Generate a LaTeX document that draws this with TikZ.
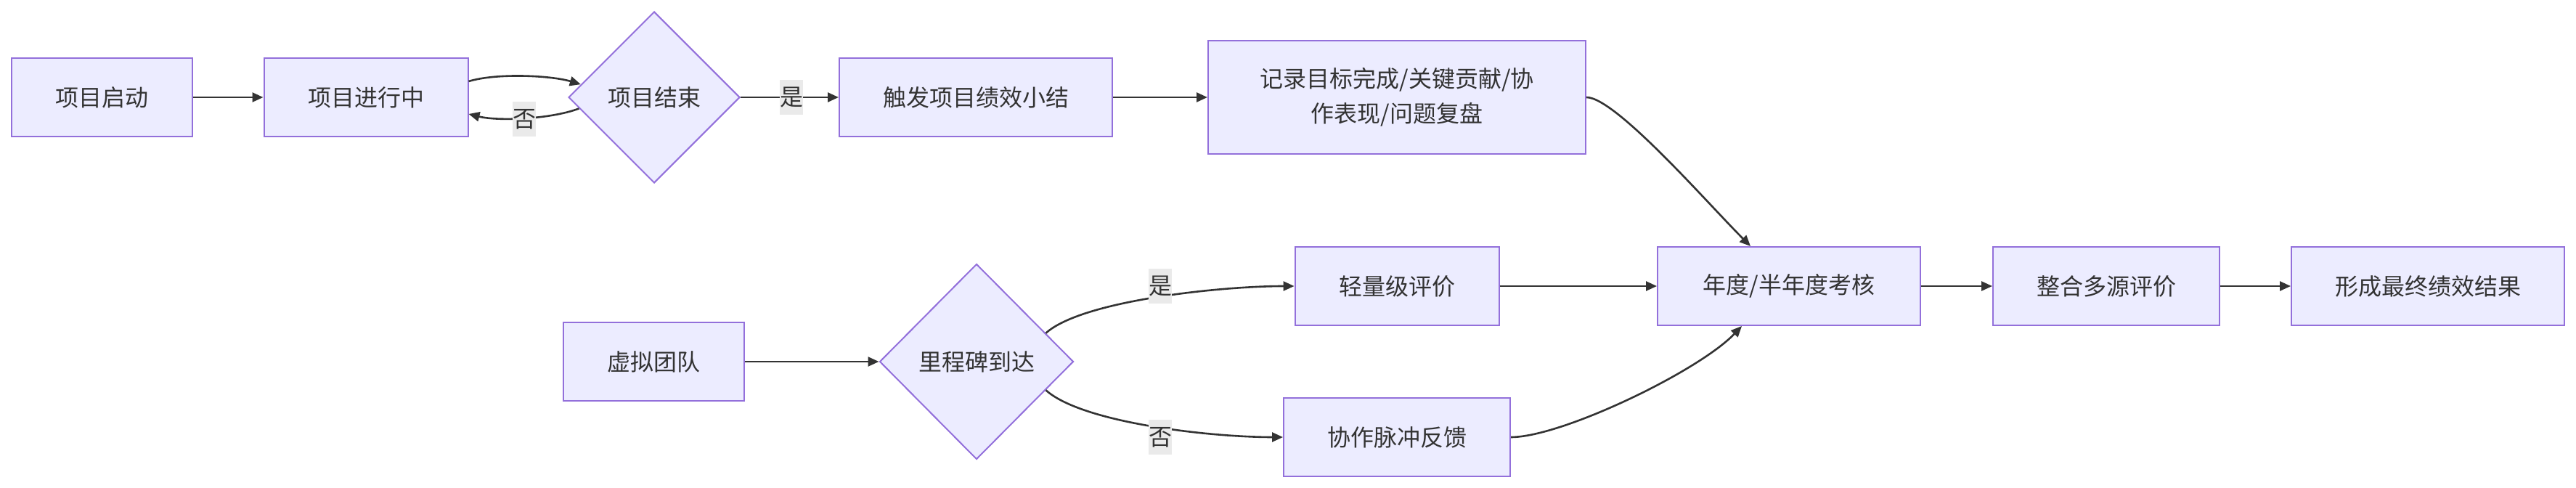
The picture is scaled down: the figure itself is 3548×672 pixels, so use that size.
\documentclass[tikz,border=0pt]{standalone}
\usepackage{fontspec}
\newfontfamily\cjk{Noto Sans CJK SC}
\usetikzlibrary{shapes.geometric,arrows.meta,calc}
\definecolor{mmfill}{HTML}{ECECFF}
\definecolor{mmstroke}{HTML}{9370DB}
\definecolor{lineclr}{HTML}{333333}
\definecolor{lblbg}{HTML}{EAEAEA}
\tikzset{
  box/.style={draw=mmstroke, fill=mmfill, line width=1pt, inner sep=0pt,
    font=\cjk\fontsize{16pt}{24pt}\selectfont, text=lineclr, align=center},
  dia/.style={box, diamond, aspect=1},
  lbl/.style={fill=lblbg, inner sep=0pt, minimum width=16pt, minimum height=24pt,
    font=\cjk\fontsize{16pt}{24pt}\selectfont, text=lineclr},
  edge/.style={draw=lineclr, line width=1.3pt, -{Triangle[length=7.5pt,width=6.5pt]}}
}
\begin{document}
\begin{tikzpicture}[x=0.5pt,y=-0.5pt]
\useasboundingbox (0,0) rectangle (3548,672);
% nodes
\node[box, minimum width=124.5pt, minimum height=54pt] (s) at (140,134) {项目启动};
\node[box, minimum width=140.5pt, minimum height=54pt] (p) at (504,134) {项目进行中};
\node[dia, minimum width=118pt, minimum height=118pt] (e) at (901,134) {项目结束};
\node[box, minimum width=188pt, minimum height=54pt] (t) at (1344,134) {触发项目绩效小结};
\node[box, minimum width=260pt, minimum height=78pt] (r) at (1924,134) {记录目标完成/关键贡献/协\\作表现/问题复盘};
\node[box, minimum width=124.5pt, minimum height=54pt] (v) at (900,498) {虚拟团队};
\node[dia, minimum width=133.5pt, minimum height=134.5pt] (m) at (1345,498) {里程碑到达};
\node[box, minimum width=140.5pt, minimum height=54pt] (l) at (1924,394) {轻量级评价};
\node[box, minimum width=156pt, minimum height=54pt] (c) at (1924,602) {协作脉冲反馈};
\node[box, minimum width=181pt, minimum height=54pt] (n) at (2464,394) {年度/半年度考核};
\node[box, minimum width=156pt, minimum height=54pt] (g) at (2901,394) {整合多源评价};
\node[box, minimum width=188pt, minimum height=54pt] (f) at (3344,394) {形成最终绩效结果};
% edges
\draw[edge] (s) -- (p);
\draw[edge] ($(p.east)+(0,-22)$) .. controls +(40,-12) and +(-40,-12) .. ($(e.west)!0.15!(e.north)$);
\draw[edge] ($(e.west)!0.13!(e.south)$) .. controls +(-40,15) and +(40,10) .. ($(p.east)+(0,23)$);
\node[lbl] (lno1) at (722,164) {否};
\draw[edge] (e.east) -- (t.west);
\node[lbl] (lyes1) at (1090,134) {是};
\draw[edge] (t) -- (r);
\draw[edge] (r.east) .. controls +(40,0) and +(-60,-60) .. ($(n.north)+(-53,0)$);
\draw[edge] (v) -- (m.west);
\draw[edge] ($(m.east)!0.29!(m.north)$) .. controls +(50,-45) and +(-100,0) .. (l.west);
\node[lbl] (lyes2) at (1598,394) {是};
\draw[edge] ($(m.east)!0.29!(m.south)$) .. controls +(50,45) and +(-100,0) .. (c.west);
\node[lbl] (lno2) at (1598,602) {否};
\draw[edge] (l) -- (n);
\draw[edge] (c.east) .. controls +(70,0) and +(-59,62) .. ($(n.south)+(-65,0)$);
\draw[edge] (n) -- (g);
\draw[edge] (g) -- (f);
\end{tikzpicture}
\end{document}
